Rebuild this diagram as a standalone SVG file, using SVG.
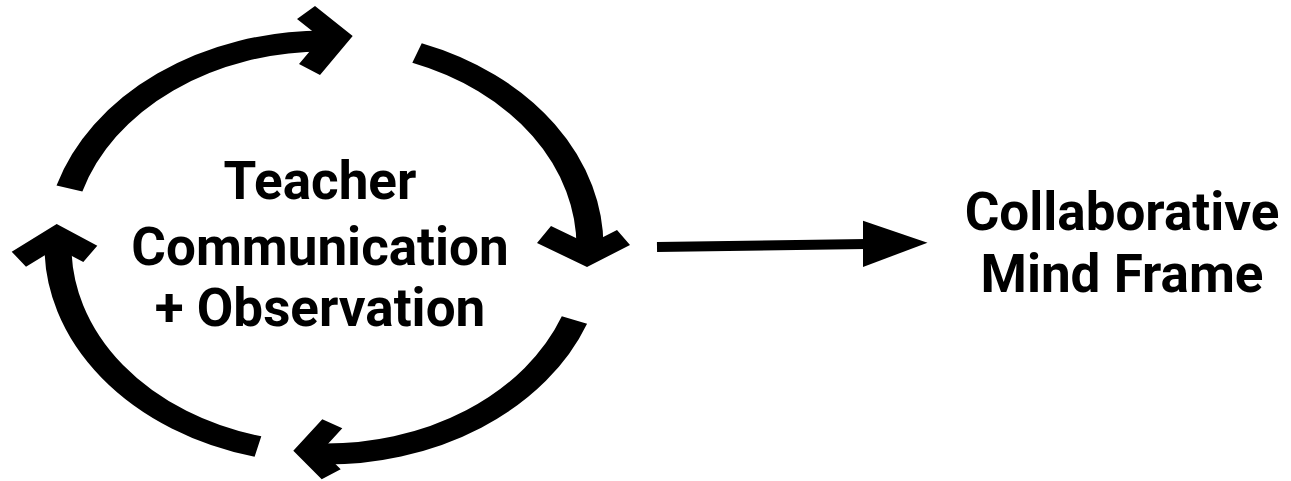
<svg xmlns="http://www.w3.org/2000/svg" width="1291" height="481" viewBox="0 0 1291 481">
<style>
.lbl{font-family:Roboto,"Liberation Sans",sans-serif;font-weight:700;font-size:53px;fill:#000;text-anchor:middle}
.arc{fill:none;stroke:#000;stroke-width:21;stroke-linecap:butt}
.head{fill:#000;stroke:none}
.line{fill:none;stroke:#000;stroke-width:10}
</style>
<rect width="1291" height="481" fill="#fff"/>
<g id="connectors">
  <g id="cycle-arcs" transform="translate(324,247) scale(1.285,1)">
    <path class="arc" d="M-198.1,-58.5 A207,207 0 0 1 0,-206"/>
    <path class="arc" d="M72.4,-194 A207,207 0 0 1 207,3"/>
    <path class="arc" d="M194.9,73 A207,207 0 0 1 -4.7,207"/>
    <path class="arc" d="M-51.4,199.5 A207,207 0 0 1 -207,-5"/>
  </g>
  <g id="cycle-heads">
    <polygon class="head" points="352.7,36 315,6 297,19 321,38 299,64 320,75"/>
    <polygon class="head" points="587,267 537,243 551,226 589,244.3 617,230 630,245"/>
    <polygon class="head" points="293.3,450.7 322.3,419.3 342.3,428.3 321.9,450.4 340.7,469.3 321.7,479.3"/>
    <polygon class="head" points="56.7,224 11.7,251.7 26,266.7 56.7,248 83.3,262 97.3,245.7"/>
  </g>
  <g id="edge-to-mindframe">
    <line class="line" x1="657" y1="247" x2="866" y2="244"/>
    <polygon class="head" points="863,220.7 927.5,242.7 863,267"/>
  </g>
</g>
<g id="node-teacher">
  <text class="lbl" x="320" y="199">Teacher</text>
  <text class="lbl" x="320" y="265">Communication</text>
  <text class="lbl" x="320" y="326">+ Observation</text>
</g>
<g id="node-mindframe">
  <text class="lbl" x="1122" y="230">Collaborative</text>
  <text class="lbl" x="1122" y="292">Mind Frame</text>
</g>
</svg>
